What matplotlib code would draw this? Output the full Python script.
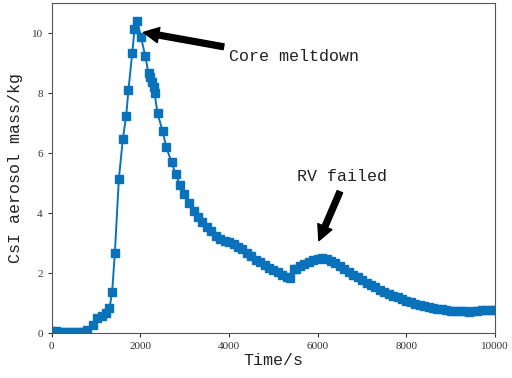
import matplotlib
matplotlib.use('Agg')
import matplotlib.pyplot as plt

# tiempo (s) y masa de aerosol CsI (kg)
time_s = [0, 100, 200, 300, 400, 500, 600, 700, 800, 926,
          1031, 1130, 1227, 1302, 1363, 1424, 1514, 1605, 1679, 1731,
          1815, 1867, 1928, 2011, 2108, 2183, 2222, 2266, 2296, 2319,
          2386, 2499, 2583, 2703, 2793, 2900, 2990,
          3100, 3200, 3300, 3400, 3500, 3600, 3700, 3800, 3900, 4000,
          4100, 4200, 4300, 4400, 4500, 4600, 4700, 4800, 4900, 5000,
          5100, 5200, 5300, 5385, 5460, 5500, 5600, 5700, 5800, 5900,
          6000, 6100, 6200, 6300, 6400, 6500, 6600, 6700, 6800, 6900,
          7000, 7100, 7200, 7300, 7400, 7500, 7600, 7700, 7800, 7900,
          8000, 8100, 8200, 8300, 8400, 8500, 8600, 8700, 8800, 8900,
          9000, 9100, 9200, 9300, 9400, 9500, 9600, 9700, 9800, 9900,
          10000]
csi_mass = [0.08, 0.07, 0.06, 0.05, 0.05, 0.05, 0.05, 0.06, 0.10, 0.28,
            0.50, 0.58, 0.69, 0.83, 1.38, 2.67, 5.14, 6.49, 7.24, 8.11,
            9.33, 10.13, 10.42, 9.89, 9.25, 8.67, 8.53, 8.39, 8.20, 8.02,
            7.33, 6.75, 6.20, 5.71, 5.30, 4.93, 4.63,
            4.33, 4.08, 3.88, 3.72, 3.56, 3.40, 3.26, 3.16, 3.09, 3.03,
            2.97, 2.89, 2.80, 2.68, 2.57, 2.46, 2.37, 2.28, 2.19, 2.11,
            2.03, 1.96, 1.89, 1.83, 2.13, 2.16, 2.24, 2.31, 2.37, 2.43,
            2.48, 2.52, 2.48, 2.41, 2.33, 2.24, 2.14, 2.05, 1.96, 1.87,
            1.78, 1.69, 1.61, 1.53, 1.46, 1.39, 1.32, 1.26, 1.20, 1.14,
            1.09, 1.04, 0.99, 0.95, 0.91, 0.88, 0.85, 0.82, 0.80, 0.78,
            0.76, 0.75, 0.74, 0.73, 0.72, 0.75, 0.76, 0.77, 0.78, 0.78,
            0.78]

label_font = 'Liberation Mono'

fig = plt.figure(figsize=(5.12, 3.78), dpi=100)
ax = fig.add_axes([0.101, 0.118, 0.866, 0.875])

ax.plot(time_s, csi_mass, color='#0a72bb', marker='s', markersize=5.3,
        linewidth=1.4)

ax.set_xlim(0, 10000)
ax.set_ylim(0, 11.02)
ax.set_xticks([0, 2000, 4000, 6000, 8000, 10000])
ax.set_yticks([0, 2, 4, 6, 8, 10])
for lbl in ax.get_xticklabels() + ax.get_yticklabels():
    lbl.set_fontfamily('Liberation Serif')
    lbl.set_fontsize(8)
ax.tick_params(length=3, width=0.8, colors='#333333')
for sp in ax.spines.values():
    sp.set_color('#555555')

ax.set_xlabel('Time/s', fontfamily=label_font, fontsize=12, labelpad=1,
              color='#222222')
ax.set_ylabel('CsI aerosol mass/kg', fontfamily=label_font, fontsize=12,
              labelpad=6, color='#222222')

# flechas de eventos
arrow_style = dict(facecolor='black', edgecolor='black', width=4.2,
                   headwidth=11, headlength=11, shrink=0.0)
ax.annotate('', xy=(2070, 10.03), xytext=(3877, 9.55),
            arrowprops=arrow_style)
ax.text(4007, 9.22, 'Core meltdown', fontfamily=label_font, fontsize=12,
        va='center', ha='left', color='#222222')
ax.annotate('', xy=(6025, 3.09), xytext=(6500, 4.72),
            arrowprops=arrow_style)
ax.text(5537, 5.22, 'RV failed', fontfamily=label_font, fontsize=12,
        va='center', ha='left', color='#222222')

fig.savefig('out.png', dpi=100)
